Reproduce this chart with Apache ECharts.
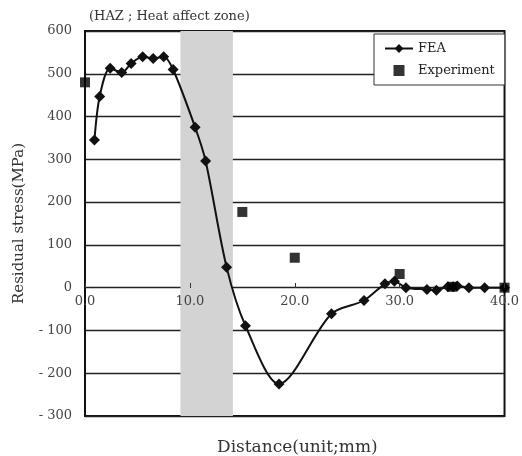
<!DOCTYPE html>
<html><head><meta charset="utf-8">
<script src="https://cdn.jsdelivr.net/npm/echarts@6/dist/echarts.min.js"></script>
<style>html,body{margin:0;padding:0;background:#fff}#c{width:522px;height:456px}</style>
</head><body><div id="c"></div>
<script>
const feaX = [0.9, 1.4, 2.4, 3.5, 4.4, 5.5, 6.5, 7.5, 8.4, 10.5, 11.5, 13.5, 15.3, 18.5, 23.5, 26.6, 28.6, 29.5, 30.6, 32.6, 33.5, 34.6, 35.1, 35.5, 36.6, 38.1, 40.0];
const feaY = [345, 447, 513, 503, 524, 540, 536, 540, 510, 375, 296, 48, -89, -225, -61, -30, 9, 15, 0, -4, -6, 2, 2, 4, 0, 0, 0];
const expX = [0, 15, 20, 30, 35, 40];
const expY = [480, 177, 70, 32, 2, 0];
const hazRange = [9.1, 14.1];
const xTicks = [0, 10, 20, 30, 40];
const yTicks = [-300, -200, -100, 0, 100, 200, 300, 400, 500, 600];

const serif = 'DejaVu Serif';
const chart = echarts.init(document.getElementById('c'));
chart.setOption({
  animation: false,
  backgroundColor: '#fff',
  title: [
    {text: '(HAZ ; Heat affect zone)', left: 84, top: 5,
     textStyle: {fontFamily: serif, fontSize: 13, fontWeight: 'normal', color: '#333'}},
    {text: 'Distance(unit;mm)', left: 212, top: 434,
     textStyle: {fontFamily: serif, fontSize: 17, fontWeight: 'normal', color: '#333'}}
  ],
  grid: {left: 85, right: 11, top: 31, bottom: 40, show: true, borderColor: '#111', borderWidth: 2, backgroundColor: 'transparent'},
  legend: {
    orient: 'vertical', left: 374, top: 34, padding: [8, 10, 8, 10], itemGap: 9,
    backgroundColor: '#fff', borderColor: '#333', borderWidth: 1,
    itemWidth: 28, itemHeight: 11, symbolKeepAspect: true,
    textStyle: {fontFamily: serif, fontSize: 13, color: '#222'},
    data: [{name: 'FEA'}, {name: 'Experiment', icon: 'path://M0,0h10v10h-10z'}]
  },
  xAxis: {
    type: 'value', min: xTicks[0], max: xTicks[xTicks.length - 1], interval: 10,
    position: 'bottom', offset: -128, z: 10,
    axisLine: {show: false, onZero: false},
    axisTick: {inside: true, length: 5, lineStyle: {color: '#333'}},
    axisLabel: {fontFamily: serif, fontSize: 13, color: '#444', margin: 7, formatter: v => v.toFixed(1)},
    splitLine: {show: false}
  },
  yAxis: {
    type: 'value', min: yTicks[0], max: yTicks[yTicks.length - 1], interval: 100,
    name: 'Residual stress(MPa)', nameLocation: 'middle', nameGap: 58,
    nameTextStyle: {fontFamily: serif, fontSize: 15, color: '#333'},
    axisLine: {show: true, lineStyle: {color: '#111', width: 2}},
    axisTick: {show: false},
    axisLabel: {fontFamily: serif, fontSize: 13, color: '#444', margin: 13, formatter: v => v < 0 ? '- ' + Math.abs(v) : String(v)},
    splitLine: {show: true, lineStyle: {color: '#222', width: 1.3}}
  },
  series: [
    {
      name: 'FEA', type: 'line', smooth: 0.3,
      data: feaX.map((x, i) => [x, feaY[i]]),
      symbol: 'diamond', symbolSize: 11,
      lineStyle: {color: '#111', width: 2},
      itemStyle: {color: '#111'},
      markArea: {silent: true, itemStyle: {color: '#d3d3d3'}, data: [[{xAxis: hazRange[0]}, {xAxis: hazRange[1]}]]}
    },
    {
      name: 'Experiment', type: 'scatter',
      data: expX.map((x, i) => [x, expY[i]]),
      symbol: 'rect', symbolSize: 10,
      itemStyle: {color: '#000'}, z: 5
    }
  ]
});
</script></body></html>
